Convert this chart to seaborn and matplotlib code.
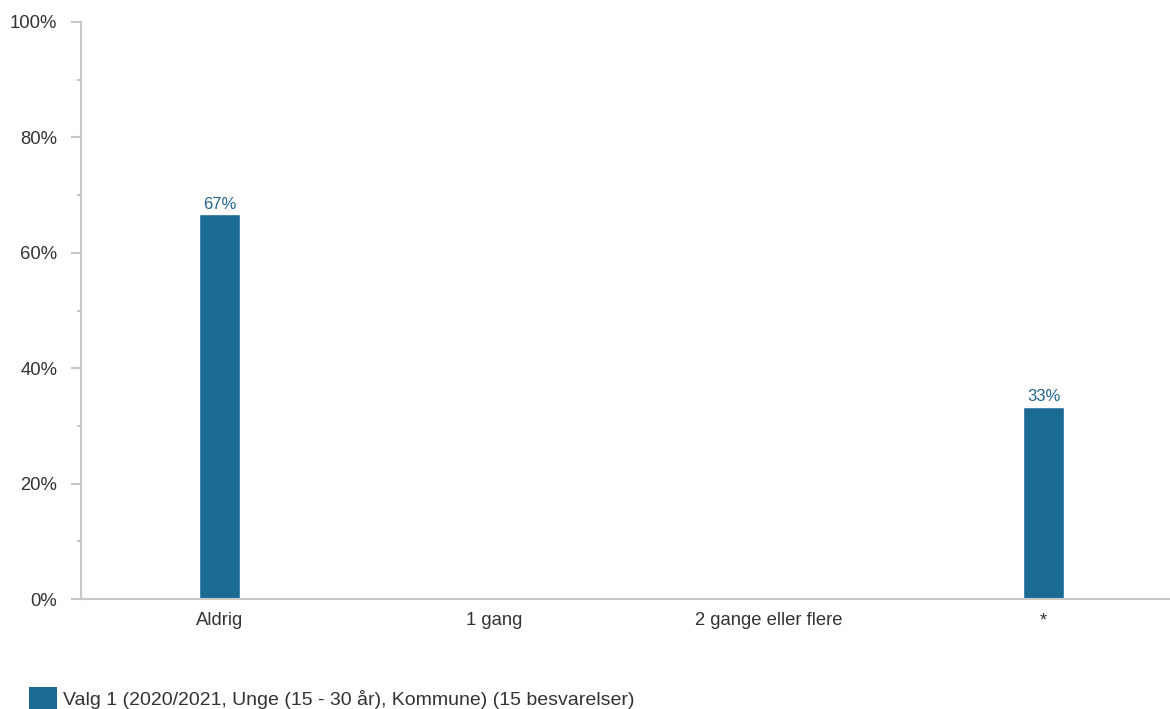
import matplotlib
matplotlib.use("Agg")
import matplotlib.pyplot as plt
import seaborn as sns
import pandas as pd
from matplotlib.patches import Patch
from matplotlib.ticker import MultipleLocator, FuncFormatter

categories = ["Aldrig", "1 gang", "2 gange eller flere", "*"]
values = [66.67, 0.0, 0.0, 33.33]
bar_labels = ["67%", "", "", "33%"]
series_name = "Valg 1 (2020/2021, Unge (15 - 30 år), Kommune) (15 besvarelser)"

bar_color = "#1b6a93"
label_color = "#22648c"
axis_color = "#c8c8c8"
text_color = "#333333"

sns.set_theme(style="white")
plt.rcParams["font.family"] = ["Liberation Sans", "DejaVu Sans"]

df = pd.DataFrame({"cat": categories, "val": values})

fig = plt.figure(figsize=(11.7, 7.09), dpi=100)
ax = fig.add_axes([81 / 1170, 110 / 709, 1 - 81 / 1170, (599 - 22) / 709])

sns.barplot(data=df, x="cat", y="val", color=bar_color, width=0.149,
            saturation=1, ax=ax)

ax.bar_label(ax.containers[0], labels=bar_labels, padding=2,
             color=label_color, fontsize=12)

ax.set_ylim(0, 100)
ax.set_xlim(-0.504, 3.46)
ax.yaxis.set_major_locator(MultipleLocator(20))
ax.yaxis.set_minor_locator(MultipleLocator(10))
ax.yaxis.set_major_formatter(FuncFormatter(lambda v, p: f"{int(v)}%"))
ax.set_xlabel("")
ax.set_ylabel("")

for side in ["top", "right"]:
    ax.spines[side].set_visible(False)
for side in ["left", "bottom"]:
    ax.spines[side].set_color(axis_color)
    ax.spines[side].set_linewidth(1.5)

ax.tick_params(axis="y", which="major", length=7, width=1.5, color=axis_color,
               left=True, pad=10, labelsize=13.3, labelcolor=text_color)
ax.tick_params(axis="y", which="minor", length=3, width=1.5, color=axis_color,
               left=True)
ax.tick_params(axis="x", length=0, pad=9.5, labelsize=13.3, labelcolor=text_color)
ax.grid(False)

handle = Patch(facecolor=bar_color, edgecolor="none")
fig.legend([handle], [series_name], loc="lower left",
           bbox_to_anchor=(29 / 1170, 0.0), frameon=False, fontsize=14,
           handlelength=1.44, handleheight=1.34, handletextpad=0.31,
           borderpad=0, borderaxespad=0, labelcolor=text_color)

fig.savefig("out.png", dpi=100)
